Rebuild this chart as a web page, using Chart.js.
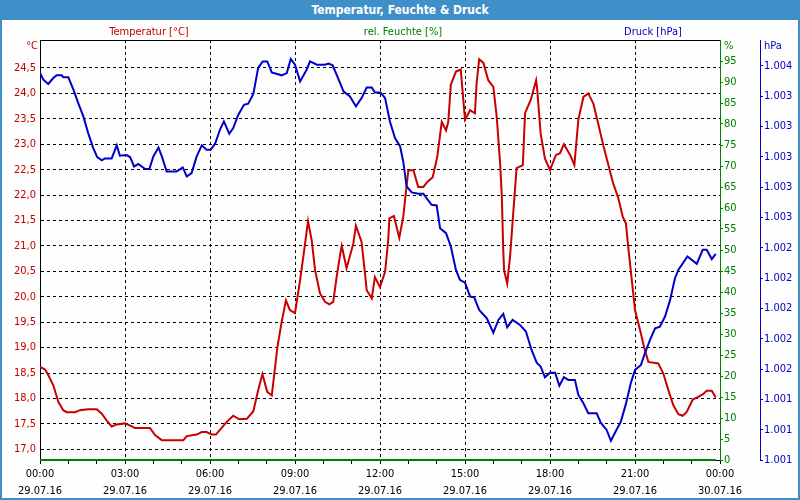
<!DOCTYPE html>
<html><head><meta charset="utf-8">
<script src="https://cdn.jsdelivr.net/npm/chart.js@4/dist/chart.umd.min.js"></script>
<style>
html,body{margin:0;padding:0;background:#fff;}
#wrap{position:relative;width:800px;height:500px;background:#fdfefd;box-sizing:border-box;overflow:hidden;}
#frame{position:absolute;left:0;top:0;width:800px;height:500px;box-sizing:border-box;border:2px solid #3f8fc8;border-top:none;pointer-events:none;}
#bar{position:absolute;left:0;top:0;width:800px;height:20px;background:#3f8fc8;color:#fff;font:bold 12px "DejaVu Sans Condensed","DejaVu Sans",sans-serif;line-height:20px;text-align:center;}
.t{position:absolute;font:11px "DejaVu Sans Condensed","DejaVu Sans",sans-serif;line-height:13px;white-space:nowrap;}
canvas{position:absolute;left:0;top:0;}
</style></head>
<body>
<div id="wrap">
<canvas id="c" width="800" height="500"></canvas>
<div id="bar">Temperatur, Feuchte &amp; Druck</div>
<div class="t" style="left:149px;top:25px;transform:translateX(-50%);color:#c00000">Temperatur [°C]</div>
<div class="t" style="left:403px;top:25px;transform:translateX(-50%);color:#008000">rel. Feuchte [%]</div>
<div class="t" style="left:653px;top:25px;transform:translateX(-50%);color:#0000c0">Druck [hPa]</div>
<div class="t" style="right:762px;top:39px;color:#c00000">°C</div>
<div class="t" style="left:724px;top:39px;color:#008000">%</div>
<div class="t" style="left:764px;top:39px;color:#0000c0">hPa</div>
<div id="frame"></div>
</div>
<script>
// ---- data (hours since 29.07.16 00:00) ----
const tempHours = [0.00,0.18,0.29,0.47,0.65,0.82,0.94,1.24,1.41,1.70,2.00,2.18,2.35,2.53,2.71,3.00,3.24,3.35,3.88,4.06,4.30,4.70,5.06,5.18,5.53,5.71,5.88,6.06,6.21,6.41,6.59,6.82,7.03,7.30,7.53,7.70,7.85,8.02,8.18,8.38,8.53,8.68,8.82,9.00,9.18,9.32,9.46,9.59,9.71,9.88,10.06,10.21,10.35,10.47,10.59,10.65,10.82,11.06,11.15,11.35,11.47,11.53,11.71,11.82,12.00,12.18,12.29,12.33,12.49,12.68,12.82,13.00,13.18,13.35,13.53,13.67,13.86,14.02,14.18,14.33,14.41,14.50,14.68,14.85,15.00,15.18,15.35,15.41,15.50,15.65,15.82,16.00,16.12,16.24,16.30,16.35,16.38,16.49,16.59,16.71,16.82,17.04,17.12,17.32,17.51,17.55,17.67,17.82,18.00,18.21,18.35,18.49,18.71,18.86,19.00,19.18,19.35,19.53,19.70,19.88,20.06,20.23,20.41,20.57,20.68,20.76,20.85,21.00,21.18,21.32,21.47,21.82,22.00,22.18,22.35,22.53,22.68,22.82,23.04,23.23,23.39,23.53,23.71,23.85];
const tempValues = [18.62,18.57,18.46,18.26,17.93,17.77,17.73,17.73,17.77,17.79,17.79,17.70,17.57,17.45,17.49,17.51,17.45,17.42,17.42,17.28,17.18,17.18,17.18,17.26,17.29,17.34,17.34,17.29,17.29,17.42,17.54,17.66,17.59,17.60,17.75,18.16,18.48,18.13,18.06,19.01,19.51,19.93,19.74,19.68,20.33,20.90,21.49,21.11,20.52,20.07,19.90,19.85,19.90,20.39,20.82,21.00,20.56,21.05,21.40,21.08,20.46,20.13,19.97,20.39,20.19,20.49,21.11,21.54,21.59,21.16,21.57,22.49,22.49,22.16,22.16,22.26,22.35,22.75,23.44,23.27,23.44,24.17,24.43,24.47,23.48,23.67,23.61,24.20,24.67,24.60,24.26,24.13,23.54,22.62,21.97,20.92,20.52,20.26,20.79,21.70,22.53,22.59,23.61,23.87,24.26,24.07,23.21,22.72,22.49,22.79,22.82,23.00,22.79,22.59,23.48,23.93,24.00,23.80,23.41,22.98,22.59,22.23,21.94,21.57,21.44,20.98,20.52,19.74,19.34,19.01,18.72,18.69,18.49,18.16,17.87,17.69,17.66,17.73,17.98,18.03,18.08,18.15,18.15,18.02];

const pressHours = [0.00,0.12,0.29,0.47,0.59,0.77,0.82,1.00,1.18,1.35,1.53,1.70,1.88,2.02,2.18,2.29,2.53,2.71,2.82,3.06,3.18,3.32,3.47,3.71,3.86,4.00,4.18,4.30,4.47,4.82,5.04,5.18,5.35,5.53,5.71,5.88,6.02,6.18,6.35,6.49,6.68,6.82,7.00,7.20,7.35,7.53,7.70,7.86,8.02,8.18,8.53,8.71,8.85,9.00,9.18,9.41,9.53,9.77,10.06,10.18,10.33,10.59,10.71,10.94,11.15,11.35,11.53,11.71,11.82,12.02,12.18,12.35,12.53,12.71,12.82,12.94,13.12,13.35,13.53,13.82,14.00,14.12,14.33,14.50,14.68,14.82,15.00,15.18,15.32,15.50,15.77,16.00,16.18,16.35,16.49,16.68,16.94,17.15,17.35,17.53,17.67,17.82,18.00,18.18,18.33,18.49,18.65,18.88,19.00,19.18,19.35,19.65,19.79,20.00,20.15,20.33,20.50,20.68,20.85,21.00,21.21,21.35,21.53,21.71,21.88,22.06,22.24,22.41,22.53,22.85,23.18,23.39,23.53,23.71,23.85];
const pressValues = [1003.552,1003.508,1003.480,1003.519,1003.537,1003.537,1003.524,1003.524,1003.442,1003.354,1003.266,1003.156,1003.057,1002.998,1002.976,1002.989,1002.989,1003.075,1003.007,1003.011,1002.998,1002.936,1002.952,1002.919,1002.919,1003.002,1003.061,1003.002,1002.903,1002.903,1002.930,1002.870,1002.892,1003.002,1003.075,1003.046,1003.046,1003.086,1003.178,1003.233,1003.152,1003.189,1003.277,1003.343,1003.350,1003.414,1003.586,1003.629,1003.629,1003.556,1003.537,1003.552,1003.645,1003.607,1003.497,1003.574,1003.629,1003.607,1003.607,1003.614,1003.603,1003.487,1003.431,1003.398,1003.332,1003.387,1003.457,1003.457,1003.424,1003.424,1003.387,1003.233,1003.123,1003.068,1002.969,1002.804,1002.765,1002.756,1002.756,1002.683,1002.679,1002.529,1002.496,1002.408,1002.254,1002.188,1002.170,1002.078,1002.074,1001.990,1001.935,1001.840,1001.924,1001.964,1001.876,1001.924,1001.891,1001.847,1001.726,1001.642,1001.616,1001.546,1001.576,1001.576,1001.490,1001.546,1001.528,1001.528,1001.429,1001.374,1001.308,1001.308,1001.246,1001.198,1001.127,1001.193,1001.253,1001.370,1001.506,1001.594,1001.627,1001.704,1001.792,1001.869,1001.880,1001.946,1002.056,1002.199,1002.254,1002.342,1002.294,1002.386,1002.386,1002.325,1002.360];

const humHours = [0.00, 23.85];
const humValues = [0, 0];

const hourTicks = [0,1,2,3,4,5,6,7,8,9,10,11,12,13,14,15,16,17,18,19,20,21,22,23,24];
const timeLabels = ['00:00','03:00','06:00','09:00','12:00','15:00','18:00','21:00','00:00'];
const dateLabels = ['29.07.16','29.07.16','29.07.16','29.07.16','29.07.16','29.07.16','29.07.16','29.07.16','30.07.16'];
const tempTicks = [17.0,17.5,18.0,18.5,19.0,19.5,20.0,20.5,21.0,21.5,22.0,22.5,23.0,23.5,24.0,24.5];
const humTicks = [0,5,10,15,20,25,30,35,40,45,50,55,60,65,70,75,80,85,90,95];
const pressTicks = [1001.0,1001.2,1001.4,1001.6,1001.8,1002.0,1002.2,1002.4,1002.6,1002.8,1003.0,1003.2,1003.4,1003.6];

// ---- chart ----
const FONT = {family:'"DejaVu Sans Condensed","DejaVu Sans",sans-serif', size:11};
const pts = (xs, ys) => xs.map((x, i) => ({x: x, y: ys[i]}));
const setTicks = arr => (s => { s.ticks = arr.map(v => ({value: v})); });
const fmtP = v => { const r = Math.round(v); return Math.floor(r/1000) + '.' + String(r % 1000).padStart(3, '0'); };

new Chart(document.getElementById('c'), {
  type: 'line',
  data: { datasets: [
    {data: pts(humHours, humValues), yAxisID: 'yH', borderColor: '#008000', borderWidth: 2, pointRadius: 0, clip: false, order: 0},
    {data: pts(pressHours, pressValues), yAxisID: 'yP', borderColor: '#0000c8', borderWidth: 2, pointRadius: 0, tension: 0, order: 1},
    {data: pts(tempHours, tempValues), yAxisID: 'yT', borderColor: '#c80000', borderWidth: 2, pointRadius: 0, tension: 0, order: 2}
  ]},
  options: {
    responsive: false, animation: false, events: [],
    layout: {padding: {top: 40, left: 0, right: 2, bottom: 2}},
    plugins: {legend: {display: false}, tooltip: {enabled: false}},
    scales: {
      x: {
        type: 'linear', position: 'bottom', min: 0, max: 24,
        afterBuildTicks: setTicks(hourTicks),
        afterFit: s => { s.height = 38; },
        ticks: {autoSkip: false, maxRotation: 0, color: '#000', padding: 2,
          font: Object.assign({lineHeight: 1.55}, FONT),
          callback: v => (v % 3 === 0) ? [timeLabels[v/3], dateLabels[v/3]] : ''},
        grid: {color: c => (c.tick && c.tick.value % 3 === 0) ? '#000' : 'rgba(0,0,0,0)', tickColor: '#000', tickLength: 4},
        border: {color: '#000', dash: [3, 3]}
      },
      xTop: {
        type: 'linear', position: 'top', min: 0, max: 24,
        afterFit: s => { s.height = 0; },
        ticks: {display: false},
        grid: {display: true, drawOnChartArea: false, drawTicks: false},
        border: {color: '#000'}
      },
      yT: {
        type: 'linear', position: 'left', min: 16.79, max: 25.05,
        afterBuildTicks: setTicks(tempTicks),
        afterFit: s => { s.width = 40; },
        ticks: {color: '#c00000', font: FONT, padding: 4, callback: v => v.toFixed(1).replace('.', ',')},
        grid: {color: '#000', drawTicks: false},
        border: {color: '#000', dash: [3, 3]}
      },
      yH: {
        type: 'linear', position: 'right', min: 0, max: 100,
        afterBuildTicks: setTicks(humTicks),
        afterFit: s => { s.width = 40; },
        ticks: {color: '#008000', font: FONT, padding: 1, callback: v => String(v)},
        grid: {drawOnChartArea: false, color: '#008000', tickColor: '#008000', tickLength: 3},
        border: {color: '#008000'}
      },
      yP: {
        type: 'linear', position: 'right', min: 1001.0, max: 1003.77,
        afterBuildTicks: setTicks(pressTicks),
        afterFit: s => { s.width = 38; },
        ticks: {color: '#0000c0', font: FONT, padding: 1, callback: fmtP},
        grid: {drawOnChartArea: false, color: '#0000c0', tickColor: '#0000c0', tickLength: 3},
        border: {color: '#0000c0'}
      }
    }
  }
});
</script>
</body></html>
